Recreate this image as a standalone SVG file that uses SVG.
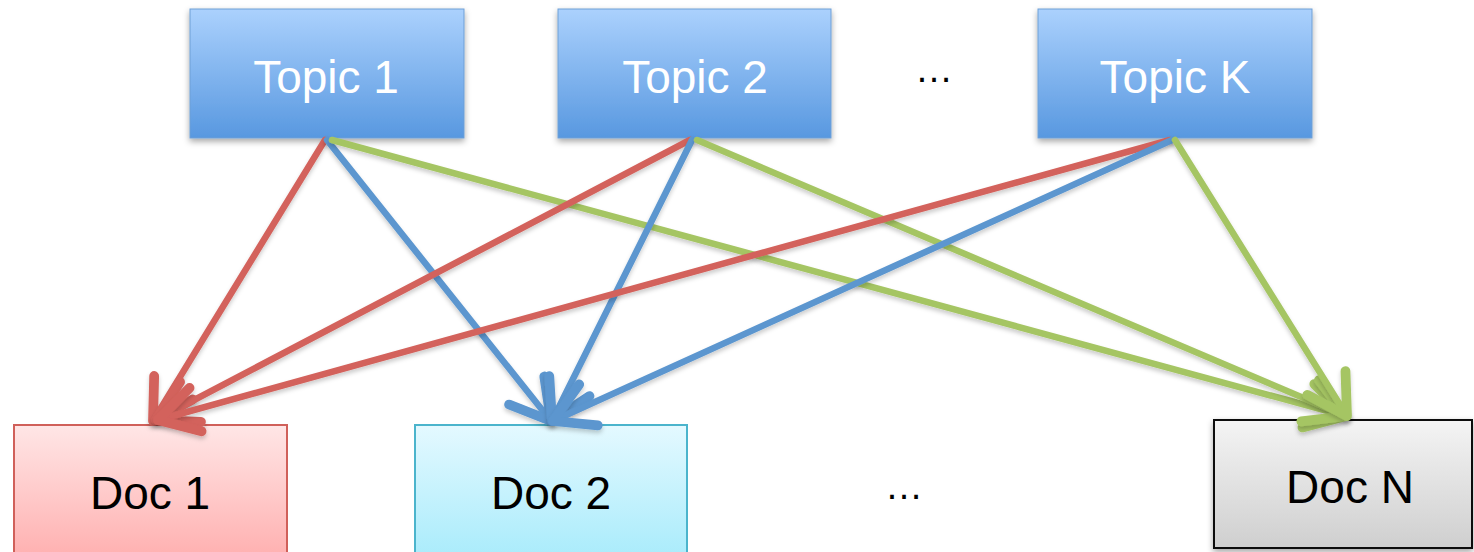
<svg xmlns="http://www.w3.org/2000/svg" width="1474" height="552" viewBox="0 0 1474 552">
<style>
.topic{fill:url(#gTopic);stroke:#6f9fd6;stroke-width:1;filter:url(#sh)}
.tt{font-family:"Liberation Sans",Arial,sans-serif;font-size:46px;fill:#ffffff;text-anchor:middle}
.dt{font-family:"Liberation Sans",Arial,sans-serif;font-size:46px;fill:#000000;text-anchor:middle}
.ell{font-family:"Liberation Sans",Arial,sans-serif;font-size:38px;fill:#000000;text-anchor:middle}
.ln{fill:none;stroke-width:6.5;stroke-linecap:round;filter:url(#lsh)}
.r{stroke:#d3625c}.b{stroke:#5b96cf}.g{stroke:#a5c564}
</style>
<defs>
<linearGradient id="gTopic" x1="0" y1="0" x2="0" y2="1">
<stop offset="0" stop-color="#abd1fd"/><stop offset="1" stop-color="#5898e0"/>
</linearGradient>
<linearGradient id="gD1" x1="0" y1="0" x2="0" y2="1">
<stop offset="0" stop-color="#ffe6e6"/><stop offset="1" stop-color="#ffadad"/>
</linearGradient>
<linearGradient id="gD2" x1="0" y1="0" x2="0" y2="1">
<stop offset="0" stop-color="#e4f9ff"/><stop offset="1" stop-color="#a6ebfb"/>
</linearGradient>
<linearGradient id="gDN" x1="0" y1="0" x2="0" y2="1">
<stop offset="0" stop-color="#f4f4f4"/><stop offset="1" stop-color="#cfcfcf"/>
</linearGradient>
<filter id="sh" x="-10%" y="-10%" width="120%" height="130%">
<feDropShadow dx="0" dy="3" stdDeviation="3" flood-color="#000" flood-opacity="0.35"/>
</filter>
<filter id="lsh" x="-10%" y="-10%" width="120%" height="120%">
<feDropShadow dx="0" dy="3" stdDeviation="2" flood-color="#000" flood-opacity="0.2"/>
</filter>
<marker id="mr" markerUnits="userSpaceOnUse" orient="auto" markerWidth="60" markerHeight="60" refX="0" refY="0" viewBox="-30 -20 34 40" overflow="visible">
<path d="M-26,-15 L0,0 L-26,15" fill="none" stroke="#d3625c" stroke-width="6.5" stroke-linecap="round" stroke-linejoin="round"/>
</marker>
<marker id="mb" markerUnits="userSpaceOnUse" orient="auto" markerWidth="60" markerHeight="60" refX="0" refY="0" viewBox="-30 -20 34 40" overflow="visible">
<path d="M-26,-15 L0,0 L-26,15" fill="none" stroke="#5b96cf" stroke-width="6.5" stroke-linecap="round" stroke-linejoin="round"/>
</marker>
<marker id="mg" markerUnits="userSpaceOnUse" orient="auto" markerWidth="60" markerHeight="60" refX="0" refY="0" viewBox="-30 -20 34 40" overflow="visible">
<path d="M-26,-15 L0,0 L-26,15" fill="none" stroke="#a5c564" stroke-width="6.5" stroke-linecap="round" stroke-linejoin="round"/>
</marker>
</defs>
<rect width="1474" height="552" fill="#ffffff"/>
<g id="topic1"><rect class="topic" x="190" y="9" width="274" height="129"/><text class="tt" x="326" y="93">Topic 1</text></g>
<g id="topic2"><rect class="topic" x="558" y="9" width="273" height="129"/><text class="tt" x="695" y="93">Topic 2</text></g>
<g id="topicK"><rect class="topic" x="1038" y="9" width="274" height="129"/><text class="tt" x="1175" y="93">Topic K</text></g>
<text class="ell" x="934" y="82">…</text>
<g id="doc1"><rect x="14" y="425" width="273" height="140" fill="url(#gD1)" stroke="#d0605a" stroke-width="2"/><text class="dt" x="150" y="509">Doc 1</text></g>
<g id="doc2"><rect x="415" y="425" width="272" height="140" fill="url(#gD2)" stroke="#4bb4cc" stroke-width="2"/><text class="dt" x="551" y="509">Doc 2</text></g>
<g id="docN"><rect x="1214" y="420" width="258" height="128" fill="url(#gDN)" stroke="#111111" stroke-width="2" filter="url(#sh)"/><text class="dt" x="1350" y="503">Doc N</text></g>
<text class="ell" x="904" y="499">…</text>
<g id="connectors">
<line class="ln r" x1="325" y1="140" x2="153" y2="421" marker-end="url(#mr)"/>
<line class="ln b" x1="327" y1="140" x2="551" y2="421" marker-end="url(#mb)"/>
<line class="ln g" x1="332" y1="140" x2="1346" y2="416" marker-end="url(#mg)"/>
<line class="ln r" x1="690" y1="140" x2="156" y2="420" marker-end="url(#mr)"/>
<line class="ln b" x1="692" y1="140" x2="552" y2="421" marker-end="url(#mb)"/>
<line class="ln g" x1="697" y1="140" x2="1346" y2="416" marker-end="url(#mg)"/>
<line class="ln r" x1="1170" y1="140" x2="158" y2="420" marker-end="url(#mr)"/>
<line class="ln b" x1="1172" y1="140" x2="553" y2="421" marker-end="url(#mb)"/>
<line class="ln g" x1="1175" y1="140" x2="1347" y2="416" marker-end="url(#mg)"/>
</g>
</svg>
